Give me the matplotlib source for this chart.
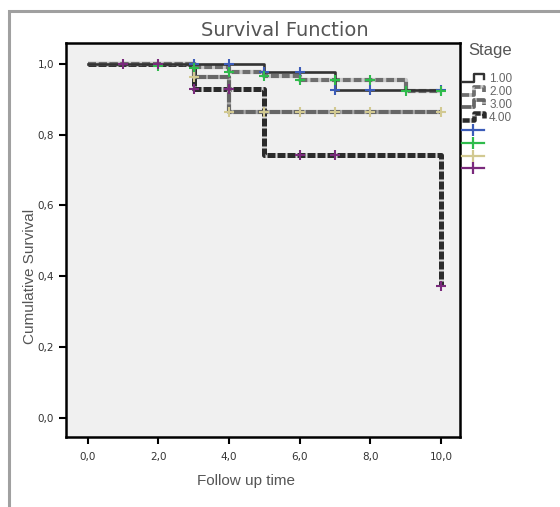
import matplotlib
matplotlib.use("Agg")
import matplotlib.pyplot as plt
from matplotlib.lines import Line2D
from matplotlib.legend_handler import HandlerBase
from matplotlib.patches import Rectangle

# Kaplan-Meier step curves (time, survival)
stage_labels = ["1.00", "2.00", "3.00", "4.00"]
stage1_t = [0, 5, 7, 10]
stage1_s = [1.0, 0.978, 0.927, 0.927]
stage2_t = [0, 3, 4, 5, 6, 9, 10]
stage2_s = [1.0, 0.990, 0.977, 0.966, 0.955, 0.922, 0.922]
stage3_t = [0, 3, 4, 10]
stage3_s = [1.0, 0.964, 0.865, 0.865]
stage4_t = [0, 3, 5, 10]
stage4_s = [1.0, 0.930, 0.743, 0.372]

# censored observations (time, survival at that time)
cens1_t = [3, 4, 5, 6, 7, 8, 10]
cens1_s = [1.0, 1.0, 0.978, 0.978, 0.927, 0.927, 0.927]
cens2_t = [2, 3, 4, 5, 6, 7, 8, 9, 10]
cens2_s = [0.995, 0.988, 0.977, 0.967, 0.955, 0.955, 0.955, 0.922, 0.922]
cens3_t = [3, 4, 5, 6, 7, 8, 10]
cens3_s = [0.964, 0.865, 0.865, 0.865, 0.865, 0.865, 0.865]
cens4_t = [1, 2, 3, 4, 6, 7, 10]
cens4_s = [1.0, 1.0, 0.930, 0.930, 0.743, 0.743, 0.372]

x_ticks = [0, 2, 4, 6, 8, 10]
y_ticks = [0.0, 0.2, 0.4, 0.6, 0.8, 1.0]

plt.rcParams["font.family"] = ["DejaVu Sans"]
txt = "#555555"

line_styles = [
    dict(color="#333333", lw=1.9, ls="-"),
    dict(color="#6e6e6e", lw=3.0, ls=(0, (1.9, 0.7)), gapcolor="#c8c8c8"),
    dict(color="#666666", lw=3.0, ls=(0, (2.5, 0.4)), gapcolor="#a8a8a8"),
    dict(color="#2b2b2b", lw=3.6, ls=(0, (1.6, 0.4)), gapcolor="#d8d8d8"),
]
cens_colors = ["#3c5cb8", "#2fbb4c", "#d2c991", "#7a2a7c"]

fig = plt.figure(figsize=(5.6, 5.07), dpi=100)
fig.patches.append(Rectangle((9 / 560, -0.1), 1.2, 1 - 11 / 507 + 0.1, transform=fig.transFigure,
                             fill=False, ec="#a0a0a0", lw=2.2))
ax = fig.add_axes([66 / 560, 70 / 507, 394 / 560, 394 / 507])
ax.set_facecolor("#f0f0f0")

curves = [(stage1_t, stage1_s), (stage2_t, stage2_s), (stage3_t, stage3_s), (stage4_t, stage4_s)]
cens = [(cens1_t, cens1_s), (cens2_t, cens2_s), (cens3_t, cens3_s), (cens4_t, cens4_s)]
# draw thick dashed ones first, solid stage 1 on top
for i in [3, 2, 1, 0]:
    t, s = curves[i]
    st = line_styles[i]
    ax.step(t, s, where="post", color=st["color"], lw=st["lw"], ls=st["ls"],
            gapcolor=st.get("gapcolor"), zorder=2 + (3 - i) * 0.1)
for i, (t, s) in enumerate(cens):
    ax.plot(t, s, ls="none", marker="+", ms=7, mew=1.5, color=cens_colors[i], zorder=5)

ax.set_xlim(-0.62, 10.54)
ax.set_ylim(-0.054, 1.059)
ax.set_xticks(x_ticks)
ax.set_yticks(y_ticks)
ax.set_xticklabels([f"{v:.1f}".replace(".", ",") for v in x_ticks])
ax.set_yticklabels([f"{v:.1f}".replace(".", ",") for v in y_ticks])
ax.tick_params(axis="both", direction="out", length=5, width=1.5, labelsize=7.5, labelcolor="#333333")
ax.tick_params(axis="x", pad=6)
for sp in ax.spines.values():
    sp.set_linewidth(1.8)
    sp.set_color("black")

fig.text(285 / 560, 1 - 30 / 507, "Survival Function", fontsize=14, color=txt, ha="center", va="center")
fig.text(246 / 560, 1 - 481 / 507, "Follow up time", fontsize=11, color=txt, ha="center", va="center",
         family="Liberation Sans")
fig.text(30 / 560, 1 - 276 / 507, "Cumulative Survival", fontsize=11, color=txt, ha="center", va="center",
         rotation=90, family="Liberation Sans")
fig.text(468 / 560, 1 - 50 / 507, "Stage", fontsize=12, color=txt, ha="left", va="center",
         family="Liberation Sans")


class StepHandler(HandlerBase):
    def __init__(self, style):
        super().__init__()
        self.style = style

    def create_artists(self, legend, orig_handle, xdescent, ydescent, width, height, fontsize, trans):
        x0, x1 = -xdescent, -xdescent + width
        xm = x0 + 0.55 * width
        y0, y1 = -ydescent + 0.05 * height, -ydescent + 1.0 * height
        st = self.style
        ln = Line2D([x0, xm, xm, x1, x1], [y0, y0, y1, y1, y0 + 0.3 * height],
                    color=st["color"], lw=st["lw"] * 0.9, ls=st["ls"], transform=trans)
        if st.get("gapcolor"):
            ln.set_gapcolor(st["gapcolor"])
        return [ln]


handles, labels, hmap = [], [], {}
for i in range(4):
    h = Line2D([], [])
    handles.append(h)
    labels.append(stage_labels[i])
    hmap[h] = StepHandler(line_styles[i])
for c in cens_colors:
    h = Line2D([0, 1, 2], [0, 0, 0], ls="-", lw=1.6, color=c, marker="|", ms=8, mew=1.6, markevery=[1])
    handles.append(h)
    labels.append("")

leg = fig.legend(handles, labels, handler_map=hmap, loc="upper left",
                 bbox_to_anchor=(462 / 560, 1 - 73 / 507), frameon=False, fontsize=8.5,
                 prop={"family": "Liberation Sans", "size": 8.5},
                 handlelength=1.9, handleheight=0.7, handletextpad=0.4, labelspacing=0.08,
                 borderaxespad=0.0, borderpad=0.0)
for t in leg.get_texts():
    t.set_color("#666666")
leg._legend_box.align = "left"

fig.savefig("out.png", dpi=100)
